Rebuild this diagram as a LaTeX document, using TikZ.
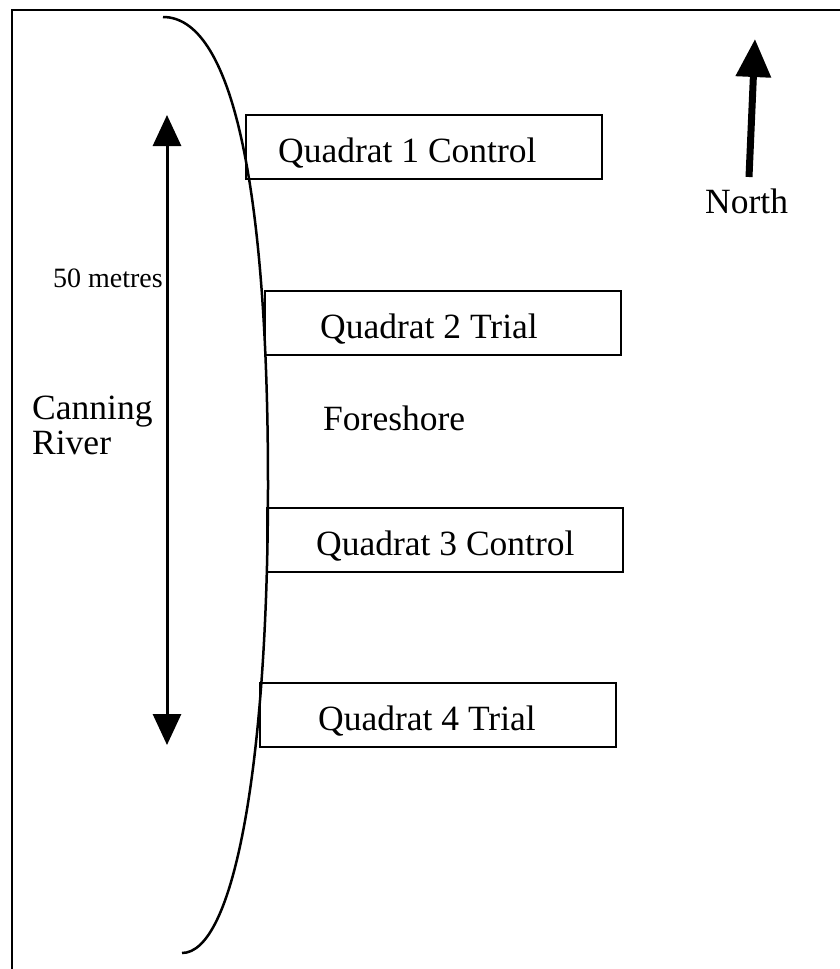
\documentclass[tikz,border=0pt]{standalone}
\usepackage{fontspec}
\setmainfont{Liberation Serif}
\usetikzlibrary{arrows.meta}
\tikzset{
  qbox/.style={draw, line width=2pt, minimum width=356pt, minimum height=64pt, inner sep=0pt},
  lbl/.style={anchor=base west, inner sep=0pt, font=\fontsize{35.5}{40}\selectfont},
  smalllbl/.style={anchor=base east, inner sep=0pt, font=\fontsize{28}{32}\selectfont},
  dimarrow/.style={line width=3pt, {Triangle[length=31pt,width=28pt]}-{Triangle[length=31pt,width=28pt]}},
  northarrow/.style={line width=7pt, -{Triangle[length=38pt,width=34pt]}},
  river/.style={line width=2.5pt},
  frame/.style={line width=2.5pt}
}
\begin{document}
\begin{tikzpicture}[x=1pt,y=-1pt]
\useasboundingbox (0,0) rectangle (840,969);
\begin{scope}
\clip (0,0) rectangle (840,969);
\draw[frame] (12,10) rectangle (860,990);
\end{scope}
% river bank
\coordinate (rtop) at (163,17);
\coordinate (rmid) at (268,485);
\coordinate (rbot) at (182,953);
\draw[river] (rtop) .. controls (231,17) and (268,181) .. (rmid)
  .. controls (268,766) and (233.6,953) .. (rbot);
% quadrats
\node[qbox] (q1) at (424,147) {};
\node[qbox] (q2) at (443,322.5) {};
\node[qbox] (q3) at (445,539.5) {};
\node[qbox] (q4) at (438,715) {};
\node[lbl] (t1) at (278,162) {Quadrat 1 Control};
\node[lbl] (t2) at (320,338) {Quadrat 2 Trial};
\node[lbl] (t3) at (316,555) {Quadrat 3 Control};
\node[lbl] (t4) at (318,730) {Quadrat 4 Trial};
\node[lbl] (fs) at (323,430) {Foreshore};
\node[lbl] (cr1) at (32,419) {Canning};
\node[lbl] (cr2) at (32,454) {River};
\node[smalllbl] (fifty) at (163,287) {50 metres};
% 50 m dimension arrow
\coordinate (mt) at (167,115);
\coordinate (mb) at (167,745);
\draw[dimarrow] (mt) -- (mb);
% north arrow
\coordinate (ns) at (749,177);
\coordinate (nt) at (755,39);
\draw[northarrow] (ns) -- (nt);
\node[lbl] (north) at (705,213) {North};
\end{tikzpicture}
\end{document}
